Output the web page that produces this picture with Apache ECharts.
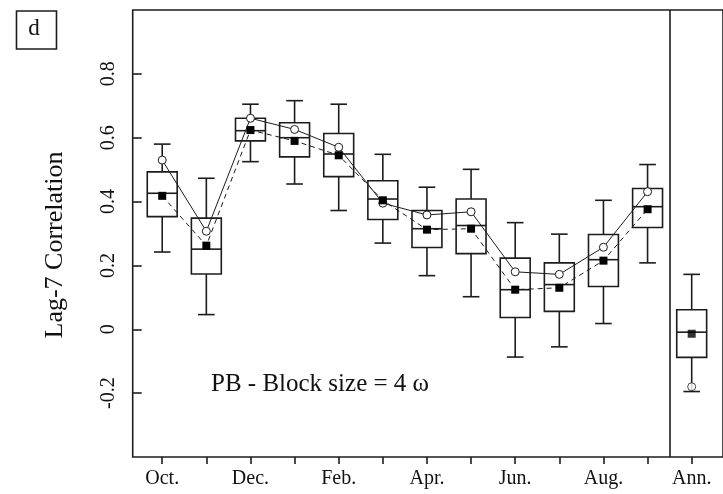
<!DOCTYPE html>
<html>
<head>
<meta charset="utf-8">
<script src="https://cdn.jsdelivr.net/npm/echarts@6/dist/echarts.min.js"></script>
<style>
html,body{margin:0;padding:0;background:#fff;}
#chart{width:723px;height:494px;}
</style>
</head>
<body>
<div id="chart"></div>
<script>
// ---- data ----
const categories = ['Oct.','Nov.','Dec.','Jan.','Feb.','Mar.','Apr.','May','Jun.','Jul.','Aug.','Sep.','Ann.'];
const labelIndices = [0, 2, 4, 6, 8, 10, 12];
const yTickValues = [-0.2, 0, 0.2, 0.4, 0.6, 0.8];

const whiskerLow  = [0.242, 0.046, 0.525, 0.455, 0.372, 0.270, 0.168, 0.102, -0.087, -0.055, 0.018, 0.208, -0.195];
const q1          = [0.353, 0.173, 0.590, 0.540, 0.478, 0.344, 0.256, 0.237,  0.037,  0.056, 0.134, 0.319, -0.088];
const median      = [0.426, 0.251, 0.622, 0.600, 0.549, 0.408, 0.315, 0.325,  0.124,  0.140, 0.218, 0.384, -0.009];
const q3          = [0.493, 0.348, 0.661, 0.647, 0.613, 0.465, 0.372, 0.408,  0.223,  0.208, 0.297, 0.441,  0.061];
const whiskerHigh = [0.580, 0.473, 0.705, 0.716, 0.705, 0.548, 0.445, 0.501,  0.334,  0.298, 0.404, 0.516,  0.172];

const circleMonthly = [0.530, 0.307, 0.661, 0.626, 0.570, 0.395, 0.358, 0.368, 0.180, 0.172, 0.257, 0.431];
const squareMonthly = [0.418, 0.262, 0.624, 0.590, 0.545, 0.404, 0.312, 0.315, 0.124, 0.130, 0.215, 0.376];
const circleAnnual = -0.180;
const squareAnnual = -0.014;

const annotation = 'PB - Block size = 4 \u03c9';
const panelLetter = 'd';
const yTitle = 'Lag-7 Correlation';

// ---- build ----
const FONT = 'Liberation Serif';
const INK = '#1c1c1c';
const annIndex = categories.length - 1;

const boxData = categories.map((c, i) => [i, whiskerLow[i], q1[i], median[i], q3[i], whiskerHigh[i]]);
const circleData = circleMonthly.map((v, i) => [i, v]);
const squareData = squareMonthly.map((v, i) => [i, v]);

const chart = echarts.init(document.getElementById('chart'), null, {renderer: 'canvas'});

const option = {
  animation: false,
  backgroundColor: '#fff',
  grid: {
    left: 132.7, top: 10, width: 592, height: 447,
    show: true, borderColor: INK, borderWidth: 1.6, backgroundColor: 'transparent'
  },
  xAxis: {
    type: 'value',
    min: -0.669, max: -0.669 + 592 / 44.25,
    splitLine: {show: false},
    axisLine: {show: false, onZero: false},
    axisTick: {show: true, inside: false, length: 7, lineStyle: {color: INK, width: 1.6},
      customValues: categories.map((c, i) => i)},
    axisLabel: {
      customValues: labelIndices,
      formatter: v => categories[Math.round(v)] || '',
      fontFamily: FONT, fontSize: 20, color: '#111', margin: 12
    }
  },
  yAxis: {
    type: 'value',
    min: -0.4, max: 1.0,
    splitLine: {show: false},
    axisLine: {show: false, onZero: false},
    axisTick: {show: true, inside: true, length: 9, lineStyle: {color: INK, width: 1.6},
      customValues: yTickValues},
    axisLabel: {
      customValues: yTickValues,
      rotate: 90,
      formatter: v => (Math.abs(v) < 1e-9 ? '0' : v.toFixed(1)),
      fontFamily: FONT, fontSize: 20, color: '#111', margin: 14
    }
  },
  graphic: [
    {type: 'rect', left: 14, top: 8.5, shape: {width: 40, height: 38},
      style: {fill: 'none', stroke: INK, lineWidth: 1.6}},
    {type: 'text', x: 34, y: 29, style: {text: panelLetter, font: '23px "' + FONT + '"',
      fill: '#111', align: 'center', verticalAlign: 'middle'}},
    {type: 'text', x: 55, y: 245, rotation: Math.PI / 2,
      style: {text: yTitle, font: '26px "' + FONT + '"', fill: '#111', align: 'center', verticalAlign: 'middle'}},
    {type: 'text', x: 211, y: 384.5,
      style: {text: annotation, font: '25px "' + FONT + '"', fill: '#111', align: 'left', verticalAlign: 'middle'}}
  ],
  series: [
    {
      type: 'custom',
      name: 'boxes',
      data: boxData,
      encode: {x: 0, y: [1, 2, 3, 4, 5]},
      z: 2,
      renderItem: function (params, api) {
        const i = api.value(0);
        const lo = api.coord([i, api.value(1)]);
        const b1 = api.coord([i, api.value(2)]);
        const md = api.coord([i, api.value(3)]);
        const b3 = api.coord([i, api.value(4)]);
        const hi = api.coord([i, api.value(5)]);
        const bw = api.size([0.678, 0])[0];
        const cw = api.size([0.377, 0])[0];
        const x = lo[0];
        const st = {stroke: INK, lineWidth: 1.6, fill: 'none'};
        return {
          type: 'group',
          children: [
            {type: 'rect', shape: {x: x - bw / 2, y: b3[1], width: bw, height: b1[1] - b3[1]}, style: st},
            {type: 'line', shape: {x1: x - bw / 2, y1: md[1], x2: x + bw / 2, y2: md[1]}, style: st},
            {type: 'line', shape: {x1: x, y1: b3[1], x2: x, y2: hi[1]}, style: st},
            {type: 'line', shape: {x1: x, y1: b1[1], x2: x, y2: lo[1]}, style: st},
            {type: 'line', shape: {x1: x - cw / 2, y1: hi[1], x2: x + cw / 2, y2: hi[1]}, style: st},
            {type: 'line', shape: {x1: x - cw / 2, y1: lo[1], x2: x + cw / 2, y2: lo[1]}, style: st}
          ]
        };
      },
      markLine: {
        silent: true, symbol: ['none', 'none'], label: {show: false},
        lineStyle: {color: INK, width: 1.6, type: 'solid'},
        data: [{xAxis: annIndex - 0.5}]
      }
    },
    {
      type: 'line', name: 'circles', data: circleData, z: 3,
      symbol: 'circle', symbolSize: 8,
      lineStyle: {color: INK, width: 1, type: 'solid'},
      itemStyle: {color: '#fff', borderColor: INK, borderWidth: 1}
    },
    {
      type: 'line', name: 'squares', data: squareData, z: 3,
      symbol: 'rect', symbolSize: 8,
      lineStyle: {color: INK, width: 1, type: [5, 4]},
      itemStyle: {color: '#000'}
    },
    {
      type: 'scatter', name: 'annualCircle', data: [[annIndex, circleAnnual]], z: 3,
      symbol: 'circle', symbolSize: 8,
      itemStyle: {color: '#fff', borderColor: INK, borderWidth: 1}
    },
    {
      type: 'scatter', name: 'annualSquare', data: [[annIndex, squareAnnual]], z: 3,
      symbol: 'rect', symbolSize: 8,
      itemStyle: {color: '#000'}
    }
  ]
};
chart.setOption(option);
</script>
</body>
</html>
